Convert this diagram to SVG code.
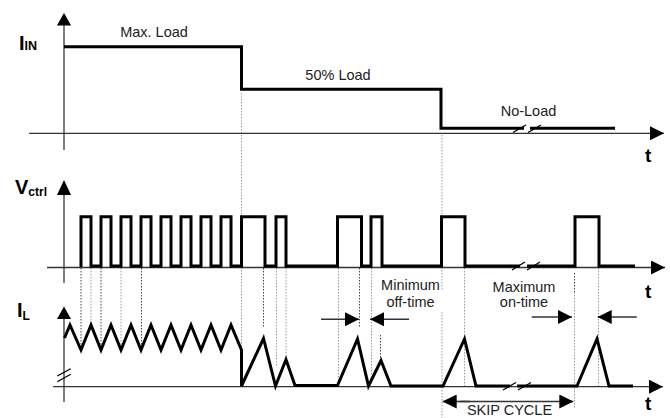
<svg xmlns="http://www.w3.org/2000/svg" width="670" height="418" viewBox="0 0 670 418">
<style>
.vax{stroke:#7f7f7f;stroke-width:2;fill:none}
.hax{stroke:#333;stroke-width:1.3;fill:none}
.wave{stroke:#000;stroke-width:3;fill:none;stroke-linejoin:miter;stroke-linecap:butt}
.dl{stroke:#9a9a9a;stroke-width:1;stroke-dasharray:1.5,1.5;fill:none}
.dd{stroke:#444;stroke-width:1;stroke-dasharray:1.5,1.5;fill:none}
.sl{stroke:#000;stroke-width:1.3;fill:none}
.arr{stroke:#333;stroke-width:1.6;fill:none}
.ah{fill:#000}
.lbl{font-family:"Liberation Sans",Arial,sans-serif;font-size:14.5px;fill:#222;text-anchor:middle}
.ax{font-family:"Liberation Sans",Arial,sans-serif;font-weight:bold;fill:#000}
</style>
<defs>
<marker id="axh" markerUnits="userSpaceOnUse" markerWidth="14" markerHeight="14" viewBox="0 0 14 14" refX="14" refY="7" orient="auto">
<path d="M0,0 L14,7 L0,14 z" fill="#000"/>
</marker>
<marker id="sh" markerUnits="userSpaceOnUse" markerWidth="14" markerHeight="14" viewBox="0 0 14 14" refX="14" refY="7" orient="auto">
<path d="M0,0 L14,7 L0,14 z" fill="#000"/>
</marker>
</defs>
<rect width="670" height="418" fill="#fff"/>

<g id="guides">
<line class="dl" x1="241.5" y1="93" x2="241.5" y2="350"/>
<line class="dl" x1="442" y1="135" x2="442" y2="290"/>
<line class="dl" x1="442" y1="312" x2="442" y2="418"/>
<line class="dd" x1="81" y1="268" x2="81" y2="349"/>
<line class="dl" x1="91" y1="268" x2="91" y2="325"/>
<line class="dd" x1="101" y1="268" x2="101" y2="349"/>
<line class="dl" x1="121" y1="268" x2="121" y2="349"/>
<line class="dd" x1="141.5" y1="268" x2="141.5" y2="349"/>
<line class="dd" x1="263.5" y1="268" x2="263.5" y2="327"/>
<line class="dl" x1="276.5" y1="268" x2="276.5" y2="366"/>
<line class="dl" x1="286" y1="268" x2="286" y2="358"/>
<line class="dl" x1="338.5" y1="268" x2="338.5" y2="385"/>
<line class="dd" x1="359.5" y1="268" x2="359.5" y2="327"/>
<line class="dl" x1="371.5" y1="268" x2="371.5" y2="385"/>
<line class="dd" x1="380.5" y1="335" x2="380.5" y2="358"/>
<line class="dl" x1="464.5" y1="268" x2="464.5" y2="388"/>
<line class="dd" x1="574.5" y1="273" x2="574.5" y2="292"/>
<line class="dl" x1="574.5" y1="292" x2="574.5" y2="408"/>
<line class="dl" x1="598.5" y1="268" x2="598.5" y2="388"/>
</g>

<g id="panel-iin">
<line class="vax" x1="64" y1="150" x2="64" y2="25"/>
<path class="ah" d="M64,13 L57,25.5 L71,25.5 z"/>
<line class="hax" x1="29" y1="133.3" x2="664" y2="133.3" marker-end="url(#axh)"/>
<path class="wave" d="M64,46.7 H241.5 V89.3 H441 V128.3 H524"/>
<path class="wave" d="M530,128.3 H615"/>
<line class="sl" x1="513" y1="132.5" x2="526" y2="125"/>
<line class="sl" x1="528" y1="132.5" x2="541" y2="125"/>
<text class="ax" x="19" y="50" font-size="20">I<tspan font-size="12.5" dy="0">IN</tspan></text>
<text class="lbl" x="154" y="37">Max. Load</text>
<text class="lbl" x="338" y="80">50% Load</text>
<text class="lbl" x="528.5" y="116">No-Load</text>
<text class="ax" x="645" y="162" font-size="19">t</text>
</g>

<g id="panel-vctrl">
<line class="vax" x1="64" y1="283" x2="64" y2="194"/>
<path class="ah" d="M64,180 L57,195 L71,195 z"/>
<line class="hax" x1="47" y1="267.5" x2="665" y2="267.5" marker-end="url(#axh)"/>
<path class="wave" d="M81,267 V216.7 H91 V266 H101 V216.7 H111 V266 H121 V216.7 H131 V266 H141 V216.7 H151 V266 H161 V216.7 H171 V266 H181 V216.7 H191 V266 H201 V216.7 H211 V266 H221 V216.7 H231 V266 H241.5 V216.7 H265 V266 H276 V216.7 H286 V266 H337.5 V216.7 H361.5 V266 H371 V216.7 H382 V266 H441.5 V216.7 H465 V266 H520"/>
<path class="wave" d="M527,266 H575 V216.7 H599 V266 H635"/>
<line class="sl" x1="512" y1="270" x2="525" y2="262"/>
<line class="sl" x1="527" y1="270" x2="540" y2="262"/>
<text class="ax" x="15" y="194" font-size="20">V<tspan font-size="12" dy="2">ctrl</tspan></text>
<text class="ax" x="645" y="298" font-size="19">t</text>
</g>

<g id="panel-il">
<line class="vax" x1="64" y1="402" x2="64" y2="318"/>
<path class="ah" d="M64,306.5 L57,319 L71,319 z"/>
<line class="sl" x1="57.3" y1="376" x2="70.7" y2="368.7"/>
<line class="sl" x1="57.3" y1="381.7" x2="70.7" y2="374.3"/>
<line class="hax" x1="53" y1="386.7" x2="663" y2="386.7" marker-end="url(#axh)"/>
<path class="wave" d="M64.5,338 L70,325 L81,350 L91,325 L101,350 L111,325 L121,350 L131,325 L141,350 L151,325 L161,350 L171,325 L181,350 L191,325 L201,350 L211,325 L221,350 L231,325 L241.5,350 V386 L263.5,338.5 L275.5,386 L286,359.5 L295,385.5 H337.5 L357.5,339 L368.5,386 L381,360.5 L391,386 H443 L464.5,339 L476,386 H510"/>
<path class="wave" d="M517,386 H577 L597,339 L609,386 H633"/>
<line class="sl" x1="503" y1="390" x2="516" y2="382.5"/>
<line class="sl" x1="518" y1="390" x2="531" y2="382.5"/>
<text class="ax" x="17" y="317" font-size="20">I<tspan font-size="12" dy="3">L</tspan></text>
<text class="ax" x="645" y="410" font-size="19">t</text>
</g>

<g id="annotations">
<text class="lbl" x="410.5" y="290">Minimum</text>
<text class="lbl" x="410.5" y="307">off-time</text>
<line class="arr" x1="321" y1="319.3" x2="359" y2="319.3" marker-end="url(#sh)"/>
<line class="arr" x1="409" y1="319.3" x2="370" y2="319.3" marker-end="url(#sh)"/>
<text class="lbl" x="524" y="291.5">Maximum</text>
<text class="lbl" x="524" y="307">on-time</text>
<line class="arr" x1="531.7" y1="317" x2="572" y2="317" marker-end="url(#sh)"/>
<line class="arr" x1="636.7" y1="317" x2="597.7" y2="317" marker-end="url(#sh)"/>
<line class="arr" x1="470" y1="401.5" x2="442.7" y2="401.5" marker-end="url(#sh)"/>
<line class="arr" x1="460" y1="401.5" x2="573.3" y2="401.5" marker-end="url(#sh)"/>
<text class="lbl" x="509.5" y="415">SKIP CYCLE</text>
</g>
</svg>
